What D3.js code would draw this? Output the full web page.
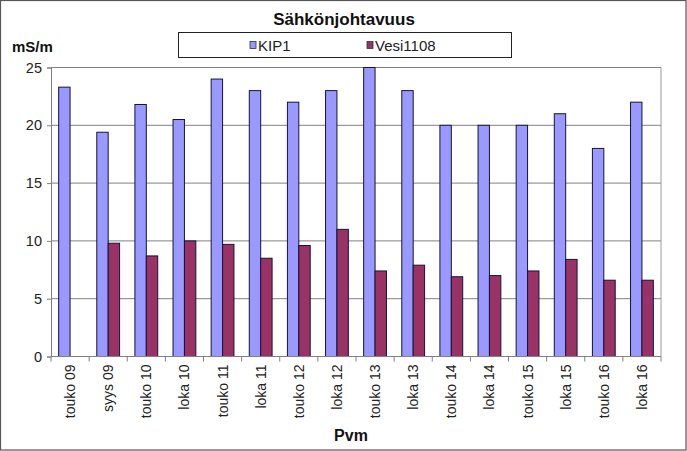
<!DOCTYPE html>
<html><head><meta charset="utf-8">
<script src="https://cdn.jsdelivr.net/npm/d3@7"></script>
<style>
html,body{margin:0;padding:0;background:#fff;}
svg{display:block;font-family:"Liberation Sans",Arial,sans-serif;}
</style></head>
<body>
<svg id="c" width="687" height="451"></svg>
<script>
const categories = ["touko 09","syys 09","touko 10","loka 10","touko 11","loka 11","touko 12","loka 12","touko 13","loka 13","touko 14","loka 14","touko 15","loka 15","touko 16","loka 16"];
const kip1 = [23.3,19.4,21.8,20.5,24,23,22,23,25,23,20,20,20,21,18,22];
const vesi1108 = [null,9.8,8.7,10,9.7,8.5,9.6,11,7.4,7.9,6.9,7.0,7.4,8.4,6.6,6.6];
const seriesNames = ["KIP1","Vesi1108"];
const colors = ["#9999FF","#993366"];
const yTicks = [0,5,10,15,20,25];

const svg = d3.select("#c");
const W = 687, H = 451;
const m = {left:51, right:661, top:67.5, bottom:356.5};

svg.append("rect").attr("x",0.5).attr("y",0.5).attr("width",W-1.5).attr("height",H-1.5)
  .attr("fill","#fff").attr("stroke","#555").attr("stroke-width",1.2);

const x = d3.scaleBand().domain(categories).range([m.left,m.right]).paddingInner(0).paddingOuter(0);
const x1 = d3.scaleBand().domain(seriesNames).range([0,22.8]);
const groupOff = (x.bandwidth()-22.8)/2;
const y = d3.scaleLinear().domain([0,25]).range([m.bottom,m.top]);

// gridlines
svg.append("g").selectAll("line").data(yTicks.filter(d=>d>0)).join("line")
  .attr("x1",m.left).attr("x2",m.right).attr("y1",d=>y(d)).attr("y2",d=>y(d))
  .attr("stroke","#808080").attr("stroke-width",1);
// right border
svg.append("line").attr("x1",m.right).attr("x2",m.right).attr("y1",m.top).attr("y2",m.bottom)
  .attr("stroke","#9a9a9a").attr("stroke-width",1);

// bars
const data = categories.map((c,i)=>({c, vals:[kip1[i],vesi1108[i]]}));
const g = svg.append("g").selectAll("g").data(data).join("g")
  .attr("transform",d=>`translate(${x(d.c)+groupOff},0)`);
g.selectAll("rect").data(d=>d.vals.map((v,j)=>({v,s:seriesNames[j],j})).filter(d=>d.v!=null)).join("rect")
  .attr("x",d=>x1(d.s)).attr("width",x1.bandwidth())
  .attr("y",d=>y(d.v)).attr("height",d=>y(0)-y(d.v))
  .attr("fill",d=>colors[d.j]).attr("stroke","#141438").attr("stroke-width",1);

// y axis
const ya = svg.append("g").attr("transform",`translate(${m.left},0)`)
  .call(d3.axisLeft(y).tickValues(yTicks).tickSize(4).tickPadding(5));
ya.select(".domain").attr("stroke","#808080");
ya.selectAll(".tick line").attr("stroke","#808080");
ya.selectAll("text").attr("font-size",14.5).attr("fill","#222").style("font-family","Liberation Sans, Arial, sans-serif");

// x axis
const xa = svg.append("g").attr("transform",`translate(0,${m.bottom})`);
xa.append("line").attr("x1",m.left).attr("x2",m.right).attr("stroke","#808080");
xa.selectAll("line.t").data(categories.map((c,i)=>i).concat([categories.length])).join("line").attr("class","t")
  .attr("x1",i=>i<categories.length?x(categories[i]):m.right)
  .attr("x2",i=>i<categories.length?x(categories[i]):m.right)
  .attr("y1",0).attr("y2",5).attr("stroke","#808080");
xa.selectAll("text").data(categories).join("text")
  .attr("transform",d=>`translate(${x(d)+x.bandwidth()/2+5},8) rotate(-90)`)
  .attr("text-anchor","end").attr("font-size",14).attr("fill","#222").text(d=>d);

// titles
svg.append("text").attr("x",344).attr("y",25).attr("text-anchor","middle")
  .attr("font-size",17).attr("font-weight","bold").attr("fill","#111").text("Sähkönjohtavuus");
svg.append("text").attr("x",12).attr("y",52)
  .attr("font-size",15).attr("font-weight","bold").attr("fill","#111").text("mS/m");
svg.append("text").attr("x",351).attr("y",441).attr("text-anchor","middle")
  .attr("font-size",16).attr("font-weight","bold").attr("fill","#111").text("Pvm");

// legend
svg.append("rect").attr("x",178.5).attr("y",32.5).attr("width",333).attr("height",25)
  .attr("fill","#fff").attr("stroke","#222").attr("stroke-width",1);
const legX = [250,367];
const lg = svg.append("g").selectAll("g").data(seriesNames).join("g")
  .attr("transform",(d,i)=>`translate(${legX[i]},45)`);
lg.append("rect").attr("x",0).attr("y",-3.5).attr("width",6).attr("height",7)
  .attr("fill",(d,i)=>colors[i]).attr("stroke","#333").attr("stroke-width",0.8);
lg.append("text").attr("x",8).attr("y",5.5).attr("font-size",15).attr("fill","#222").text(d=>d);
</script>
</body></html>
